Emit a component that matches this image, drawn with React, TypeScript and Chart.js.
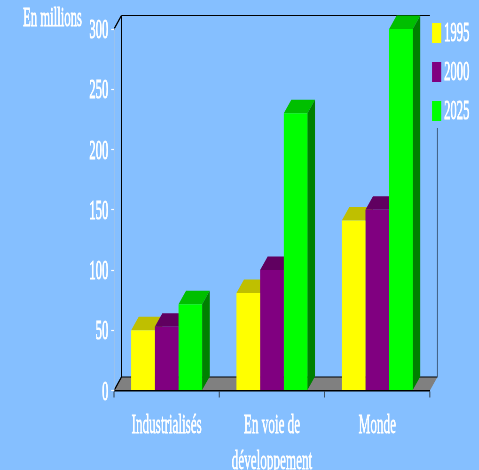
import React, { useEffect, useRef } from "react";
import { Chart, registerables } from "chart.js";

Chart.register(...registerables);

const categories: (string | string[])[] = ["Industrialisés", ["En voie de", "développement"], "Monde"];
const series1995 = [50, 81, 141];
const series2000 = [53, 100, 150];
const series2025 = [71.5, 230, 300];
const seriesLabels = ["1995", "2000", "2025"];
const yTicksMax = 300;
const yTickStep = 50;
const yTitle = "En millions";

const frontColors = ["#ffff00", "#800080", "#00ff00"];
const topColors = ["#bfbf00", "#600060", "#00bf00"];
const sideColors = ["#808000", "#400040", "#008000"];
const BG = "#85bfff";

const SX = 0.47; // horizontal squeeze of the whole picture
const W = 479 / SX;
const H = 470;
const px = (x: number) => x / SX;
const DX = px(7.5);
const DY = 13.5;

const threeD = {
  id: "threeD",
  beforeDraw(chart: any) {
    const { ctx, chartArea: a } = chart;
    const top = a.top - DY;
    const backBottom = a.bottom - DY;
    ctx.save();
    // floor
    ctx.fillStyle = "#808080";
    ctx.beginPath();
    ctx.moveTo(a.left, a.bottom);
    ctx.lineTo(a.right, a.bottom);
    ctx.lineTo(a.right + DX, backBottom);
    ctx.lineTo(a.left + DX, backBottom);
    ctx.closePath();
    ctx.fill();
    // back wall and left wall edges
    ctx.strokeStyle = "#000000";
    ctx.lineWidth = 1.2;
    ctx.beginPath();
    ctx.moveTo(a.left + DX, backBottom);
    ctx.lineTo(a.right + DX, backBottom);
    ctx.moveTo(a.left + DX, top);
    ctx.lineTo(a.right, top);
    ctx.stroke();
    ctx.lineWidth = px(1);
    ctx.beginPath();
    ctx.moveTo(a.left + DX, top);
    ctx.lineTo(a.left + DX, backBottom);
    ctx.moveTo(a.left, a.top);
    ctx.lineTo(a.left + DX, top);
    ctx.moveTo(a.left, a.bottom);
    ctx.lineTo(a.left + DX, backBottom);
    ctx.stroke();
    // right wall edge, below the legend box
    ctx.strokeStyle = "#3f5f80";
    ctx.beginPath();
    ctx.moveTo(a.right + DX, 128);
    ctx.lineTo(a.right + DX, backBottom);
    ctx.stroke();
    ctx.restore();
  },
  beforeDatasetsDraw(chart: any) {
    const { ctx } = chart;
    ctx.save();
    chart.data.labels.forEach((_: any, i: number) => {
      chart.data.datasets.forEach((_d: any, d: number) => {
        const bar = chart.getDatasetMeta(d).data[i];
        const hw = bar.width / 2;
        const l = bar.x - hw;
        const r = bar.x + hw;
        ctx.fillStyle = topColors[d];
        ctx.beginPath();
        ctx.moveTo(l, bar.y);
        ctx.lineTo(r, bar.y);
        ctx.lineTo(r + DX, bar.y - DY);
        ctx.lineTo(l + DX, bar.y - DY);
        ctx.closePath();
        ctx.fill();
        ctx.fillStyle = sideColors[d];
        ctx.beginPath();
        ctx.moveTo(r, bar.y);
        ctx.lineTo(r + DX, bar.y - DY);
        ctx.lineTo(r + DX, bar.base - DY);
        ctx.lineTo(r, bar.base);
        ctx.closePath();
        ctx.fill();
      });
    });
    ctx.restore();
  },
  afterDraw(chart: any) {
    const { ctx } = chart;
    ctx.save();
    ctx.fillStyle = "#ffffff";
    ctx.strokeStyle = "#ffffff";
    ctx.lineWidth = 1;
    ctx.lineJoin = "round";
    ctx.textBaseline = "middle";
    ctx.font = '27px "Liberation Serif"';
    ctx.textAlign = "left";
    ctx.fillText(yTitle, px(23), 18.5);
    ctx.strokeText(yTitle, px(23), 18.5);
    chart.data.datasets.forEach((d: any, i: number) => {
      const cy = 33 + i * 39;
      ctx.fillStyle = frontColors[i];
      ctx.fillRect(px(432), cy - 10, px(9.3), 20);
      ctx.fillStyle = "#ffffff";
      ctx.fillText(d.label, px(444), cy + 1);
      ctx.strokeText(d.label, px(444), cy + 1);
    });
    ctx.restore();
  },
};

export default function App() {
  const ref = useRef<HTMLCanvasElement>(null);
  useEffect(() => {
    const chart = new Chart(ref.current!, {
      type: "bar",
      data: {
        labels: categories as any,
        datasets: [series1995, series2000, series2025].map((values, i) => ({
          label: seriesLabels[i],
          data: values,
          backgroundColor: frontColors[i],
          borderWidth: 0,
          barPercentage: 1,
          categoryPercentage: 0.674,
        })),
      },
      options: {
        animation: false,
        responsive: false,
        devicePixelRatio: 1,
        layout: { padding: { top: 29, right: px(479 - 430), left: 0, bottom: 0 } },
        plugins: { legend: { display: false }, title: { display: false }, tooltip: { enabled: false } },
        scales: {
          x: {
            afterFit: (s: any) => { s.height = 470 - 390.5; },
            border: { color: "#000000", width: 1.5 },
            grid: { drawOnChartArea: false, drawTicks: true, tickLength: 7, tickColor: "#3a4a5a", tickWidth: 2.2, offset: true },
            ticks: { color: "#ffffff", textStrokeColor: "#ffffff", textStrokeWidth: 0.8, font: { family: '"Liberation Serif"', size: 28, lineHeight: 1.29 }, maxRotation: 0, minRotation: 0, autoSkip: false, padding: 10 },
          },
          y: {
            min: 0,
            max: yTicksMax,
            afterFit: (s: any) => { s.width = px(114); },
            border: { color: "#b4c8dc", width: 1.5 },
            grid: { drawOnChartArea: false, drawTicks: true, tickLength: 6, tickColor: "#ffffff", tickWidth: 1.2 },
            ticks: { stepSize: yTickStep, color: "#ffffff", textStrokeColor: "#ffffff", textStrokeWidth: 1, labelOffset: 2, font: { family: '"Liberation Serif"', size: 27 }, padding: 6 },
          },
        },
      },
      plugins: [threeD],
    } as any);
    return () => chart.destroy();
  }, []);
  return (
    <div style={{ position: "fixed", left: 0, top: 0, width: 479, height: 470, overflow: "hidden", background: BG }}>
      <canvas
        ref={ref}
        width={Math.round(W)}
        height={H}
        style={{ position: "absolute", left: 0, top: 0, transformOrigin: "0 0", transform: `scaleX(${SX})` }}
      />
    </div>
  );
}
